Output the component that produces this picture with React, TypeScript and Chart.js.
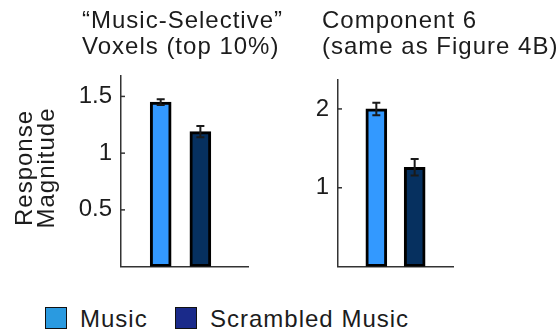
import React, { useEffect, useRef } from "react";
import { Chart, registerables } from "chart.js";

Chart.register(...registerables);

const categories = ["Music", "Scrambled Music"];
const leftTitle = ["“Music-Selective”", "Voxels (top 10%)"];
const rightTitle = ["Component 6", "(same as Figure 4B)"];
const yAxisTitle = ["Response", "Magnitude"];

const leftValues = [1.45, 1.19];
const leftErrors = [0.025, 0.05];
const leftTicks = [0.5, 1, 1.5];

const rightValues = [2.0, 1.26];
const rightErrors = [0.08, 0.105];
const rightTicks = [1, 2];

const barColors = ["#3399ff", "#06305f"];
const legendColors = ["#2a9ae0", "#1a2a8a"];

const FONT = "'Liberation Sans', Arial, Helvetica, sans-serif";
const TEXT = "#1c1c1c";

type PanelCfg = {
  values: number[];
  errors: number[];
  ticks: number[];
  yMax: number;
  xMax: number;
  yWidth: number;
  padding: { top: number; right: number; bottom: number; left: number };
  yTitle: boolean;
  width: number;
  height: number;
};

function makeChart(canvas: HTMLCanvasElement, p: PanelCfg) {
  const errorPlugin = {
    id: "errs",
    afterDatasetsDraw(chart: any) {
      const ctx = chart.ctx;
      const ys = chart.scales.y;
      const meta = chart.getDatasetMeta(0);
      ctx.save();
      ctx.strokeStyle = "#1a1a1a";
      ctx.lineWidth = 2;
      meta.data.forEach((bar: any, i: number) => {
        const x = bar.x;
        const y1 = ys.getPixelForValue(p.values[i] + p.errors[i]);
        const y2 = ys.getPixelForValue(p.values[i] - p.errors[i]);
        ctx.beginPath();
        ctx.moveTo(x, y1);
        ctx.lineTo(x, y2);
        ctx.moveTo(x - 4, y1);
        ctx.lineTo(x + 4, y1);
        ctx.moveTo(x - 4, y2);
        ctx.lineTo(x + 4, y2);
        ctx.stroke();
      });
      // inward tick marks
      const left = chart.chartArea.left;
      ctx.strokeStyle = "#333";
      ctx.lineWidth = 1.5;
      p.ticks.forEach((t) => {
        const y = ys.getPixelForValue(t);
        ctx.beginPath();
        ctx.moveTo(left, y);
        ctx.lineTo(left + 4, y);
        ctx.stroke();
      });
      if (p.yTitle) {
        ctx.fillStyle = TEXT;
        ctx.font = "24px " + FONT;
        try {
          (ctx as any).letterSpacing = "1px";
        } catch (e) {}
        ctx.textAlign = "center";
        ctx.textBaseline = "middle";
        const xs = [25, 47];
        yAxisTitle.forEach((line, k) => {
          ctx.save();
          ctx.translate(xs[k], 168);
          ctx.rotate(-Math.PI / 2);
          ctx.fillText(line, 0, 0);
          ctx.restore();
        });
      }
      ctx.restore();
    },
  };

  return new Chart(canvas, {
    type: "bar",
    data: {
      datasets: [
        {
          label: "values",
          data: categories.map((c, i) => ({ x: i + 1, y: p.values[i] })),
          backgroundColor: barColors,
          borderColor: "#000",
          borderWidth: 3,
          borderSkipped: false,
          barThickness: 21,
        } as any,
      ],
    },
    options: {
      animation: false,
      responsive: false,
      devicePixelRatio: 1,
      layout: { padding: p.padding },
      plugins: {
        legend: { display: false },
        title: { display: false },
        tooltip: { enabled: false },
      },
      scales: {
        x: {
          type: "linear",
          min: 0,
          max: p.xMax,
          offset: false,
          grid: { display: false, drawTicks: false },
          border: { display: true, color: "#333", width: 1.5 },
          ticks: { display: false },
          afterFit: (s: any) => {
            s.height = 0;
          },
        },
        y: {
          type: "linear",
          min: 0,
          max: p.yMax,
          grid: { display: false, drawTicks: false },
          border: { display: true, color: "#333", width: 1.5 },
          ticks: {
            color: TEXT,
            padding: 9,
            font: { size: 24, family: FONT },
            callback: (v: any) => String(v),
          },
          afterBuildTicks: (s: any) => {
            s.ticks = p.ticks.map((v) => ({ value: v }));
          },
          afterFit: (s: any) => {
            s.width = p.yWidth;
          },
        },
      },
    } as any,
    plugins: [errorPlugin],
  });
}

function Panel({ cfg, left }: { cfg: PanelCfg; left: number }) {
  const ref = useRef<HTMLCanvasElement>(null);
  useEffect(() => {
    const ch = makeChart(ref.current!, cfg);
    return () => ch.destroy();
  }, []);
  return (
    <canvas
      ref={ref}
      width={cfg.width}
      height={cfg.height}
      style={{ position: "absolute", left, top: 0, width: cfg.width, height: cfg.height }}
    />
  );
}

const textStyle: React.CSSProperties = {
  position: "absolute",
  fontFamily: FONT,
  fontSize: 24,
  lineHeight: "26px",
  letterSpacing: "1px",
  color: TEXT,
  whiteSpace: "nowrap",
};

export default function App() {
  const leftCfg: PanelCfg = {
    values: leftValues,
    errors: leftErrors,
    ticks: leftTicks,
    yMax: 1.68,
    xMax: 3.2,
    yWidth: 121,
    padding: { top: 76, right: 12, bottom: 11, left: 0 },
    yTitle: true,
    width: 260,
    height: 290,
  };
  const rightCfg: PanelCfg = {
    values: rightValues,
    errors: rightErrors,
    ticks: rightTicks,
    yMax: 2.367,
    xMax: 3,
    yWidth: 78,
    padding: { top: 80, right: 107, bottom: 10, left: 0 },
    yTitle: false,
    width: 300,
    height: 290,
  };
  return (
    <div
      style={{
        position: "absolute",
        left: 0,
        top: 0,
        width: 560,
        height: 335,
        background: "#fff",
        overflow: "hidden",
      }}
    >
      <Panel cfg={leftCfg} left={0} />
      <Panel cfg={rightCfg} left={260} />
      <div style={{ ...textStyle, left: 82, top: 7 }}>
        {leftTitle.map((t, i) => (
          <div key={i}>{t}</div>
        ))}
      </div>
      <div style={{ ...textStyle, left: 322, top: 7 }}>
        {rightTitle.map((t, i) => (
          <div key={i}>{t}</div>
        ))}
      </div>
      {categories.map((c, i) => (
        <React.Fragment key={c}>
          <div
            style={{
              position: "absolute",
              left: i === 0 ? 45 : 175,
              top: 307,
              width: 20,
              height: 20,
              background: legendColors[i],
              border: "1.5px solid #111",
            }}
          />
          <div style={{ ...textStyle, left: i === 0 ? 80 : 210, top: 306 }}>{c}</div>
        </React.Fragment>
      ))}
    </div>
  );
}
